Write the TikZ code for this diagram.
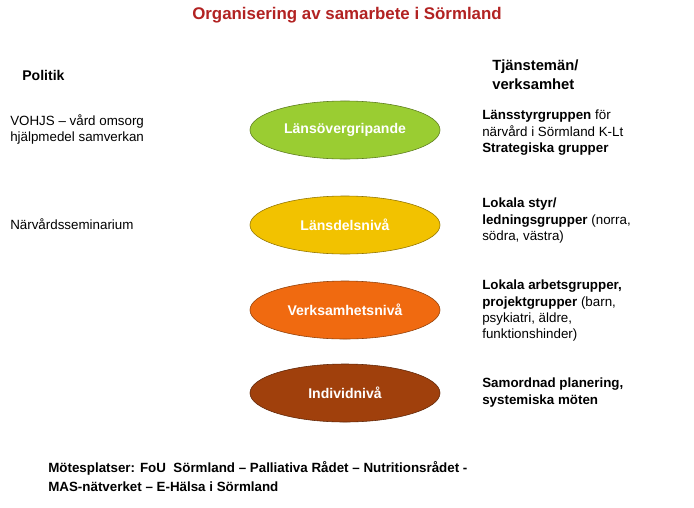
\documentclass[tikz,border=0pt]{standalone}
\usepackage{fontspec}
\setmainfont{Liberation Sans}
\usetikzlibrary{positioning, shapes.geometric}
\definecolor{lgreen}{HTML}{9ACD32}
\definecolor{lyellow}{HTML}{F2C200}
\definecolor{lorange}{HTML}{F06A10}
\definecolor{lbrown}{HTML}{A0400C}
\definecolor{titlered}{HTML}{B22222}
\tikzset{
    level/.style={ellipse, draw=#1!60!black, fill=#1, minimum width=4.75cm, minimum height=1.45cm, text=white, font=\bfseries}, % nivåer
    txt/.style={anchor=north west, align=left, font=\fontsize{9.5}{11.5}\selectfont, inner sep=0pt}
}
\begin{document}
\begin{tikzpicture}[x=0.025cm, y=-0.025cm]
            \useasboundingbox[fill=white] (0,0) rectangle (694,507);

            \node[font=\bfseries\large, text=titlered] (title) at (347,15) {Organisering av samarbete i Sörmland};

            \node[level=lgreen] (lan) at (345,130) {Länsövergripande};
            \node[level=lyellow] (del) at (345,225) {Länsdelsnivå};
            \node[level=lorange] (verk) at (345,310) {Verksamhetsnivå};
            \node[level=lbrown] (ind) at (345,393) {Individnivå};

            \node[txt, font=\bfseries] (pol) at (22,70) {Politik};
            \node[txt] (vohjs) at (10,114) {VOHJS – vård omsorg\\hjälpmedel samverkan};
            \node[txt] (narv) at (10,218) {Närvårdsseminarium};

            \node[txt, font=\bfseries\fontsize{10.5}{13}\selectfont] (tjm) at (492,60) {Tjänstemän/\\verksamhet};
            \node[txt] (r1) at (482,110) {\textbf{Länsstyrgruppen} för\\närvård i Sörmland K-Lt\\\textbf{Strategiska grupper}};
            \node[txt] (r2) at (482,198) {\textbf{Lokala styr/}\\\textbf{ledningsgrupper} (norra,\\södra, västra)};
            \node[txt] (r3) at (482,280) {\textbf{Lokala arbetsgrupper,}\\\textbf{projektgrupper} (barn,\\psykiatri, äldre,\\funktionshinder)};
            \node[txt, font=\bfseries\fontsize{9.5}{11.5}\selectfont] (r4) at (482,378) {Samordnad planering,\\systemiska möten};

            \node[txt, font=\bfseries\fontsize{9.5}{13.5}\selectfont] (mote) at (48,461) {Mötesplatser: FoU\ \ Sörmland – Palliativa Rådet – Nutritionsrådet -\\MAS-nätverket – E-Hälsa i Sörmland};
        \end{tikzpicture}
\end{document}
